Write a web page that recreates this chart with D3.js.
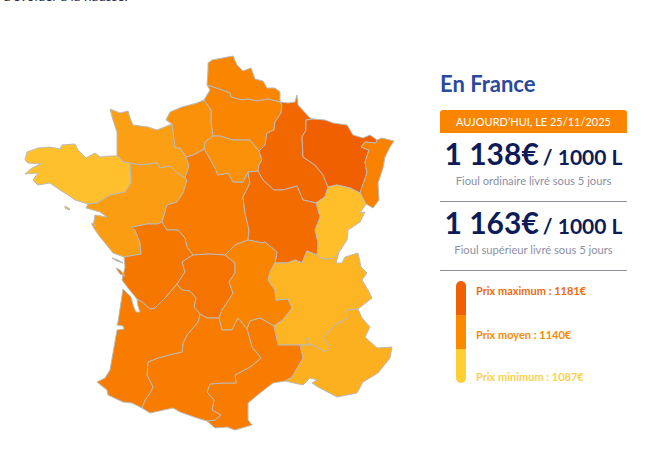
<!DOCTYPE html>
<html>
<head>
<meta charset="utf-8">
<script src="https://cdn.jsdelivr.net/npm/d3@7"></script>
<style>
  html, body { margin: 0; padding: 0; background: #fff; }
  svg { display: block; font-family: Lato, sans-serif; }
</style>
</head>
<body>
<svg id="chart" width="663" height="462"></svg>
<script>
// prix par région (estimés à partir des couleurs de la carte)
const regionNames = ["Nord-Pas-de-Calais", "Picardie", "Haute-Normandie", "Basse-Normandie", "Bretagne", "Pays de la Loire", "Centre", "Île-de-France", "Champagne-Ardenne", "Lorraine", "Alsace", "Franche-Comté", "Bourgogne", "Poitou-Charentes", "Limousin", "Auvergne", "Rhône-Alpes", "PACA", "Languedoc-Roussillon", "Midi-Pyrénées", "Aquitaine"];
const regionPrices = [1140, 1140, 1130, 1118, 1090, 1120, 1150, 1130, 1172, 1181, 1143, 1091, 1168, 1156, 1160, 1141, 1100, 1105, 1150, 1150, 1150];

// frontières partagées, unités de la carte
const arcs = {
  nordSea: [[207,85],[208,70],[208,63],[212,60],[233,56],[237,65],[243,71],[251,68],[255,79],[263,81],[267,88],[275,88],[280,92],[280,102]],
  nordPic: [[207,85],[222,90],[230,93],[231,97],[242,100],[248,99],[257,101],[268,99],[280,102]],
  picCoast: [[207,85],[210,90],[204,100]],
  picHN: [[204,100],[211,110],[211,123],[213,136]],
  hnIdf: [[213,136],[205,142],[204,148]],
  picIdf: [[213,136],[220,136],[233,140],[250,140],[259,151]],
  picChamp: [[280,102],[282,105],[281,113],[275,122],[274,130],[267,133],[265,145],[259,151]],
  idfChamp: [[259,151],[262,160],[259,165],[258,171]],
  idfCentre: [[204,148],[215,168],[218,175],[228,173],[233,182],[243,182],[248,172]],
  idfBourg: [[248,172],[258,171]],
  hnCoast: [[204,100],[197,103],[182,107],[170,112],[166,120],[172,124]],
  hnBn: [[172,124],[175,148],[180,148],[186,157]],
  hnCentre: [[186,157],[193,155],[203,150],[204,148]],
  bnCoast: [[172,124],[157,130],[148,127],[133,125],[130,118],[128,111],[120,113],[110,109],[113,120],[117,132],[117,156]],
  bnBret: [[117,156],[120,158],[123,162],[130,163]],
  bnPdl: [[130,163],[140,165],[157,163],[160,168],[170,166],[177,173],[185,178]],
  bnCentre: [[186,157],[189,166],[185,178]],
  bretCoast: [[117,156],[110,156],[100,157],[95,153],[86,158],[78,150],[75,144],[62,145],[60,149],[50,147],[38,148],[27,152],[25,160],[28,163],[41,164],[32,168],[25,174],[38,173],[33,180],[38,185],[50,183],[60,190],[68,195],[75,200],[88,204]],
  bretPdl: [[88,204],[97,203],[110,195],[125,192],[131,183],[130,163]],
  pdlCoast: [[88,204],[86,208],[100,212],[107,217],[95,215],[93,227],[100,237],[105,243],[113,253],[124,257]],
  pdlPoitou: [[124,257],[141,254],[140,243],[135,230],[132,227],[147,224],[157,224],[162,222]],
  pdlCentre: [[185,178],[187,180],[183,193],[177,202],[167,205],[162,222]],
  centrePoitou: [[162,222],[167,230],[178,230],[185,238],[187,247],[193,255]],
  centreLim: [[193,255],[210,254],[225,255]],
  centreAuv: [[225,255],[235,245],[248,240]],
  centreBourg: [[248,172],[250,183],[243,197],[245,213],[249,230],[248,240]],
  champBourg: [[258,171],[263,180],[274,190],[283,190],[297,186],[303,200],[316,203]],
  champTop: [[280,102],[288,103],[295,102],[297,95],[298,105],[310,118],[313,119]],
  champLor: [[313,119],[306,120],[306,130],[302,137],[303,157],[315,165],[323,175],[328,187]],
  champFc: [[328,187],[325,197],[316,203]],
  lorTop: [[313,119],[325,120],[333,123],[347,125],[353,135],[363,138],[370,135],[377,140]],
  lorAls: [[377,140],[376,143],[365,142],[361,147],[369,150],[365,162],[367,173],[360,193]],
  lorFc: [[328,187],[337,185],[350,188],[360,193]],
  alsEast: [[377,140],[382,138],[394,141],[390,147],[385,157],[383,168],[378,183],[379,200],[373,208],[366,204]],
  alsFc: [[360,193],[366,204]],
  fcEast: [[366,204],[360,213],[365,212],[360,222],[348,230],[347,240],[339,252]],
  fcBourg: [[316,203],[320,217],[315,230],[318,243],[317,255]],
  fcRa: [[317,255],[322,259],[332,259],[339,252]],
  bourgRa: [[275,263],[287,263],[295,260],[302,263],[307,251],[317,255]],
  bourgAuv: [[248,240],[263,243],[265,242],[277,252],[275,263]],
  raEast: [[339,252],[336,263],[342,263],[345,257],[358,253],[361,267],[367,273],[362,280],[368,290],[372,298],[358,309]],
  raPaca: [[358,309],[347,310],[348,318],[335,325],[323,338],[330,347],[325,352],[313,345],[305,345],[300,345]],
  raLr: [[300,345],[288,345],[278,345],[274,326]],
  raAuv: [[275,263],[270,272],[268,280],[275,290],[276,300],[288,299],[292,308],[283,320],[274,326]],
  auvLr: [[274,326],[260,318],[250,321],[247,329]],
  auvMidi: [[247,329],[238,318],[232,330],[222,330],[219,318]],
  auvLim: [[225,255],[235,263],[235,273],[229,282],[233,293],[230,298],[222,310],[219,318]],
  limMidi: [[219,318],[207,318],[200,314]],
  limAq: [[200,314],[194,307],[196,298],[190,291],[182,290],[177,284]],
  limPoi: [[193,255],[182,262],[185,272],[177,284]],
  poiAq: [[177,284],[165,298],[155,308],[150,309],[142,302],[137,299]],
  poiCoast: [[124,257],[125,267],[122,280],[128,288],[137,299]],
  aqCoast: [[137,299],[138,306],[140,312],[136,312],[133,305],[131,297],[123,289],[118,322],[117,325],[123,326],[124,329],[117,330],[110,370],[105,378],[97,382],[107,390],[108,395],[123,402],[132,403],[142,408]],
  aqMidi: [[142,408],[145,400],[150,393],[153,387],[147,375],[148,362],[158,358],[173,354],[182,352],[183,343],[187,335],[198,322],[200,314]],
  midiSouth: [[142,408],[150,413],[173,408],[180,412],[197,418],[207,421]],
  midiLr: [[247,329],[252,347],[261,358],[250,367],[235,375],[236,383],[223,383],[210,384],[207,392],[214,400],[212,410],[221,415],[215,420],[207,421]],
  lrCoast: [[207,421],[215,428],[227,427],[235,430],[252,425],[248,420],[248,403],[260,393],[273,383],[285,381]],
  lrPaca: [[285,381],[292,377],[303,358],[300,345]],
  pacaCoast: [[285,381],[303,385],[310,378],[317,380],[312,383],[318,387],[337,397],[357,393],[363,382],[378,373],[390,358],[392,347],[377,348],[365,337],[370,327],[362,318],[358,309]]
};

// contour de chaque région, "-" = frontière parcourue à l'envers
const regionRings = [
  "nordSea -nordPic",
  "nordPic picChamp -picIdf -picHN -picCoast",
  "hnCoast hnBn hnCentre -hnIdf -picHN",
  "bnCoast bnBret bnPdl -bnCentre -hnBn",
  "bretCoast bretPdl -bnBret",
  "pdlCoast pdlPoitou -pdlCentre -bnPdl -bretPdl",
  "bnCentre pdlCentre centrePoitou centreLim centreAuv -centreBourg -idfCentre -hnCentre",
  "idfCentre idfBourg -idfChamp -picIdf hnIdf",
  "champTop champLor champFc -champBourg -idfChamp -picChamp",
  "lorTop lorAls -lorFc -champLor",
  "alsEast -alsFc -lorAls",
  "fcEast -fcRa -fcBourg -champFc lorFc alsFc",
  "champBourg fcBourg -bourgRa -bourgAuv -centreBourg idfBourg",
  "poiCoast -poiAq -limPoi -centrePoitou -pdlPoitou",
  "centreLim auvLim limMidi limAq -limPoi",
  "bourgAuv raAuv auvLr auvMidi -auvLim centreAuv",
  "bourgRa fcRa raEast raPaca raLr -raAuv",
  "pacaCoast raPaca -lrPaca",
  "lrCoast lrPaca raLr auvLr midiLr",
  "midiSouth -midiLr auvMidi limMidi -aqMidi",
  "aqCoast aqMidi limAq poiAq"
];

// îles et enclave : région, contour
const extraNames = ["Bretagne", "Pays de la Loire", "Poitou-Charentes", "Poitou-Charentes", "PACA"];
const extraRings = [
  [[65,206],[70,209],[69,210],[65,208]],
  [[92,223],[96,225],[94,227],[92,225]],
  [[112,258],[118,260],[123,263],[117,261]],
  [[116,268],[120,270],[125,276],[120,274]],
  [[305,339],[309,339],[310,342],[306,345]]
];

// échelle de prix
const legendLabels = ["Prix maximum", "Prix moyen", "Prix minimum"];
const legendPrices = [1181, 1140, 1087];
const legendColors = ["#f05f00", "#fb8a00", "#ffcf33"];
const legendTextColors = ["#f26a0a", "#fb8a00", "#fdd04a"];

// prix nationaux
const panelPrices = ["1 138€", "1 163€"];
const panelUnit = "/ 1000 L";
const panelNotes = ["Fioul ordinaire livré sous 5 jours", "Fioul supérieur livré sous 5 jours"];
const panelDate = "AUJOURD’HUI, LE 25/11/2025";

const svg = d3.select("#chart");

// texte du haut de page, coupé par le cadre
svg.append("text").attr("x", 3).attr("y", 1)
  .attr("font-size", 13.5).attr("fill", "#2b2b4a")
  .text("d'évoluer à la hausse.");

const ringCoords = spec => {
  const out = [];
  spec.split(" ").forEach(s => {
    const rev = s[0] === "-";
    const pts = arcs[rev ? s.slice(1) : s];
    (rev ? pts.slice().reverse() : pts).forEach(p => out.push(p));
  });
  return out;
};

const features = regionNames.map((name, i) => ({
  type: "Feature",
  properties: { name, price: regionPrices[i] },
  geometry: { type: "Polygon", coordinates: [ringCoords(regionRings[i])] }
}));
const extras = extraRings.map((ring, i) => ({
  type: "Feature",
  properties: { name: extraNames[i], price: regionPrices[regionNames.indexOf(extraNames[i])] },
  geometry: { type: "Polygon", coordinates: [ring.concat([ring[0]])] }
}));

const projection = d3.geoIdentity()
  .fitExtent([[25, 56], [394, 430]], { type: "FeatureCollection", features });
const path = d3.geoPath(projection);

const color = d3.scaleLinear()
  .domain([1087, 1140, 1181])
  .range(["#fec42f", "#f98500", "#f06000"]);

svg.append("g")
  .selectAll("path")
  .data(features.concat(extras))
  .join("path")
  .attr("d", path)
  .attr("fill", d => color(d.properties.price))
  .attr("stroke", "#bdbab5")
  .attr("stroke-width", 1)
  .attr("stroke-linejoin", "round")
  .append("title").text(d => d.properties.name);

// panneau de droite
const panel = svg.append("g");
const panelLeft = 440, panelRight = 627, panelMid = (panelLeft + panelRight) / 2;

panel.append("text").attr("x", panelLeft).attr("y", 92)
  .attr("font-size", 22).attr("font-weight", 700).attr("fill", "#2a4a9b")
  .text("En France");

panel.append("path")
  .attr("d", `M${panelLeft},133V113a3,3 0 0 1 3,-3H${panelRight - 3}a3,3 0 0 1 3,3V133Z`)
  .attr("fill", "#fb8500");
panel.append("text").attr("x", panelMid).attr("y", 126)
  .attr("text-anchor", "middle").attr("font-size", 11).attr("fill", "#fff")
  .text(panelDate);

const rowY = d3.scalePoint().domain(d3.range(panelPrices.length)).range([165, 234]);
panelPrices.forEach((price, i) => {
  const t = panel.append("text").attr("x", panelMid).attr("y", rowY(i))
    .attr("text-anchor", "middle").attr("fill", "#0d1b57");
  t.append("tspan").attr("font-size", 30).attr("font-weight", 700).text(price);
  t.append("tspan").attr("font-size", 21).attr("font-weight", 700).attr("dx", 4).text(panelUnit);
  panel.append("text").attr("x", panelMid).attr("y", rowY(i) + 20)
    .attr("text-anchor", "middle").attr("font-size", 11.2).attr("fill", "#8c90a6")
    .text(panelNotes[i]);
  panel.append("line")
    .attr("x1", panelLeft).attr("x2", panelRight)
    .attr("y1", rowY(i) + 36.5).attr("y2", rowY(i) + 36.5)
    .attr("stroke", "#8e90a3");
});

// légende
const barY = d3.scaleBand().domain(legendLabels).range([281, 383]);
const labelY = d3.scaleOrdinal().domain(legendLabels).range([295, 339, 381]);
svg.append("clipPath").attr("id", "barClip")
  .append("rect").attr("x", 456).attr("y", 281).attr("width", 10).attr("height", 102).attr("rx", 5);
const legend = svg.append("g");
legend.append("g").attr("clip-path", "url(#barClip)")
  .selectAll("rect")
  .data(legendLabels)
  .join("rect")
  .attr("x", 456).attr("width", 10)
  .attr("y", d => barY(d)).attr("height", barY.bandwidth())
  .attr("fill", (d, i) => legendColors[i]);
legend.selectAll("text")
  .data(legendLabels)
  .join("text")
  .attr("x", 476).attr("y", d => labelY(d))
  .attr("font-size", 11).attr("font-weight", 700)
  .attr("fill", (d, i) => legendTextColors[i])
  .text((d, i) => `${d} : ${legendPrices[i]}€`);
</script>
</body>
</html>
